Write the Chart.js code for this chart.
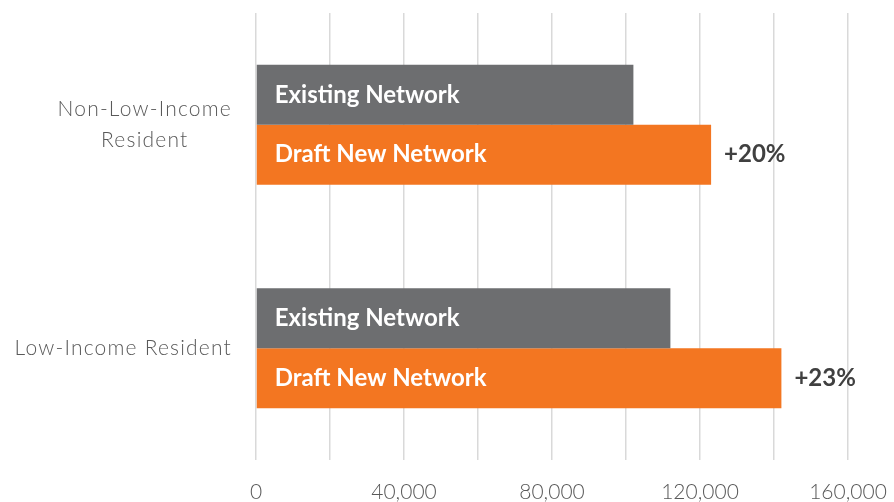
<!DOCTYPE html>
<html>
<head>
<meta charset="utf-8">
<script src="https://cdn.jsdelivr.net/npm/chart.js@4.4.1/dist/chart.umd.min.js"></script>
<style>
  html, body { margin: 0; padding: 0; background: #fff; }
  #wrap { width: 894px; height: 502px; }
</style>
</head>
<body>
<div id="wrap"><canvas id="chart"></canvas></div>
<script>
const categories = [['Non-Low-Income', 'Resident'], ['Low-Income Resident']];
const seriesNames = ['Existing Network', 'Draft New Network'];
const existingValues = [102000, 112000];
const draftValues = [123000, 142000];
const changeLabels = ['+20%', '+23%'];
const xTicks = [0, 20000, 40000, 60000, 80000, 100000, 120000, 140000, 160000];
const xTickLabels = ['0', '', '40,000', '', '80,000', '', '120,000', '', '160,000'];

// series name inside each bar, change % after the draft bars
const barText = {
  id: 'barText',
  afterDatasetsDraw(chart) {
    const ctx = chart.ctx;
    ctx.save();
    ctx.textBaseline = 'middle';
    ctx.textAlign = 'left';
    ctx.font = 'bold 24px Lato';
    chart.data.datasets.forEach((ds, di) => {
      chart.getDatasetMeta(di).data.forEach((bar, i) => {
        ctx.fillStyle = '#ffffff';
        ctx.fillText(ds.label, bar.base + 18, bar.y);
        if (di === 1) {
          ctx.fillStyle = '#404040';
          ctx.fillText(changeLabels[i], bar.x + 13, bar.y);
        }
      });
    });
    ctx.restore();
  }
};

// category labels: block right aligned, lines centred on each other
const catLabels = {
  id: 'catLabels',
  afterDraw(chart) {
    const ctx = chart.ctx;
    const y = chart.scales.y;
    const right = y.right - 24;
    const lineH = 30.5;
    ctx.save();
    ctx.font = '300 21px Lato';
    ctx.letterSpacing = '1.2px';
    ctx.fillStyle = '#595959';
    ctx.textAlign = 'center';
    ctx.textBaseline = 'middle';
    categories.forEach((lines, i) => {
      const w = Math.max(...lines.map(l => ctx.measureText(l).width));
      const cx = right - w / 2;
      const cy = y.getPixelForValue(i);
      lines.forEach((l, k) => {
        ctx.fillText(l, cx, cy + (k - (lines.length - 1) / 2) * lineH);
      });
    });
    ctx.restore();
  }
};

new Chart(document.getElementById('chart'), {
  type: 'bar',
  data: {
    labels: categories,
    datasets: [
      { label: seriesNames[0], data: existingValues, backgroundColor: '#6d6e70' },
      { label: seriesNames[1], data: draftValues, backgroundColor: '#f37621' },
    ],
  },
  options: {
    indexAxis: 'y',
    responsive: true,
    maintainAspectRatio: false,
    animation: false,
    layout: { padding: { top: 13, right: 46, left: 0, bottom: 0 } },
    datasets: { bar: { categoryPercentage: 0.536, barPercentage: 1 } },
    plugins: {
      legend: { display: false },
      tooltip: { enabled: false },
    },
    scales: {
      x: {
        min: 0,
        max: 160000,
        afterBuildTicks: (scale) => { scale.ticks = xTicks.map(v => ({ value: v })); },
        afterFit: (scale) => { scale.height = 42; scale.paddingLeft = 0; scale.paddingRight = 0; },
        grid: { color: '#d9d9d9', lineWidth: 1.5, drawTicks: false },
        border: { display: false },
        ticks: {
          autoSkip: false,
          maxRotation: 0,
          padding: 20,
          color: '#595959',
          font: { family: 'Lato', size: 21, weight: 300 },
          callback: (v, i) => xTickLabels[i],
        },
      },
      y: {
        afterFit: (scale) => { scale.width = 256; },
        grid: { display: false },
        border: { display: false },
        ticks: { display: false },
      },
    },
  },
  plugins: [barText, catLabels],
});
</script>
</body>
</html>
